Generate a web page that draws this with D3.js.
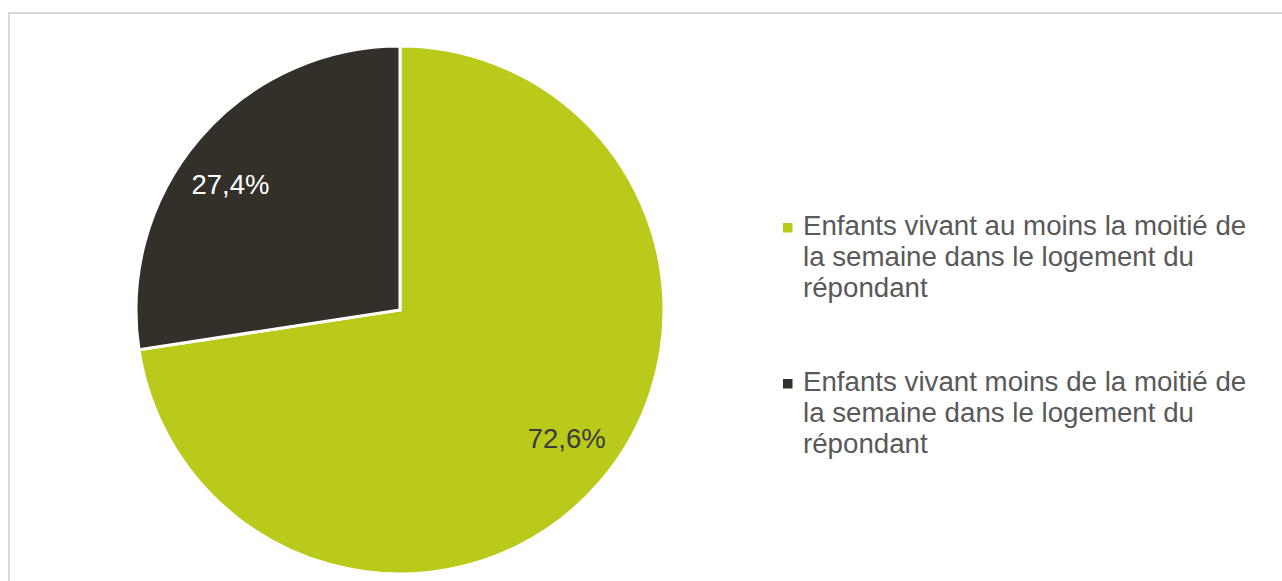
<!DOCTYPE html>
<html><head><meta charset="utf-8">
<script src="https://cdn.jsdelivr.net/npm/d3@7"></script>
<style>html,body{margin:0;padding:0;background:#fff;}svg{display:block;}</style>
</head><body>
<svg id="c" width="1282" height="581"></svg>
<script>
const categories = [
  "Enfants vivant au moins la moitié de la semaine dans le logement du répondant",
  "Enfants vivant moins de la moitié de la semaine dans le logement du répondant"
];
const legendLines = [
  ["Enfants vivant au moins la moitié de", "la semaine dans le logement du", "répondant"],
  ["Enfants vivant moins de la moitié de", "la semaine dans le logement du", "répondant"]
];
const values = [72.6, 27.4];
const valueLabels = ["72,6%", "27,4%"];
const colors = ["#B9CA1A", "#33302A"];
const labelColors = ["#3A3A3A", "#FFFFFF"];

const svg = d3.select("#c");
svg.append("rect").attr("x", 9).attr("y", 13).attr("width", 1290).attr("height", 600)
  .attr("fill", "#fff").attr("stroke", "#D9D9D9").attr("stroke-width", 2);

const cx = 400, cy = 310, r = 264;
const g = svg.append("g").attr("transform", `translate(${cx},${cy})`);
const pie = d3.pie().sort(null).value(d => d);
const arcs = pie(values);
const arc = d3.arc().innerRadius(0).outerRadius(r);
g.selectAll("path").data(arcs).join("path")
  .attr("d", arc).attr("fill", (d, i) => colors[i])
  .attr("stroke", "#fff").attr("stroke-width", 3).attr("stroke-linejoin", "miter");

const labelArc = d3.arc().innerRadius(r * 0.8).outerRadius(r * 0.8);
const labelOffsets = [[6.6, 0.6], [-9.4, 22]];
g.selectAll("text.lbl").data(arcs).join("text").attr("class", "lbl")
  .attr("transform", d => { const [x, y] = labelArc.centroid(d); return `translate(${x},${y})`; })
  .attr("dx", (d, i) => labelOffsets[i][0])
  .attr("dy", (d, i) => labelOffsets[i][1])
  .attr("text-anchor", "middle")
  .attr("font-family", "Liberation Sans, Arial, sans-serif").attr("font-size", 27.5)
  .attr("fill", (d, i) => labelColors[i])
  .text((d, i) => valueLabels[i]);

const lg = svg.append("g").attr("transform", "translate(783,0)");
const legendBase = [235, 391];
categories.forEach((c, i) => {
  const item = lg.append("g").attr("transform", `translate(0,${legendBase[i]})`);
  item.append("rect").attr("x", 0).attr("y", -12).attr("width", 9.5).attr("height", 9.5).attr("fill", colors[i]);
  const t = item.append("text").attr("x", 20).attr("y", 0)
    .attr("font-family", "Liberation Sans, Arial, sans-serif").attr("font-size", 27.7)
    .attr("fill", "#595959");
  legendLines[i].forEach((l, j) => t.append("tspan").attr("x", 20).attr("dy", j === 0 ? 0 : 31).text(l));
});
</script>
</body></html>
